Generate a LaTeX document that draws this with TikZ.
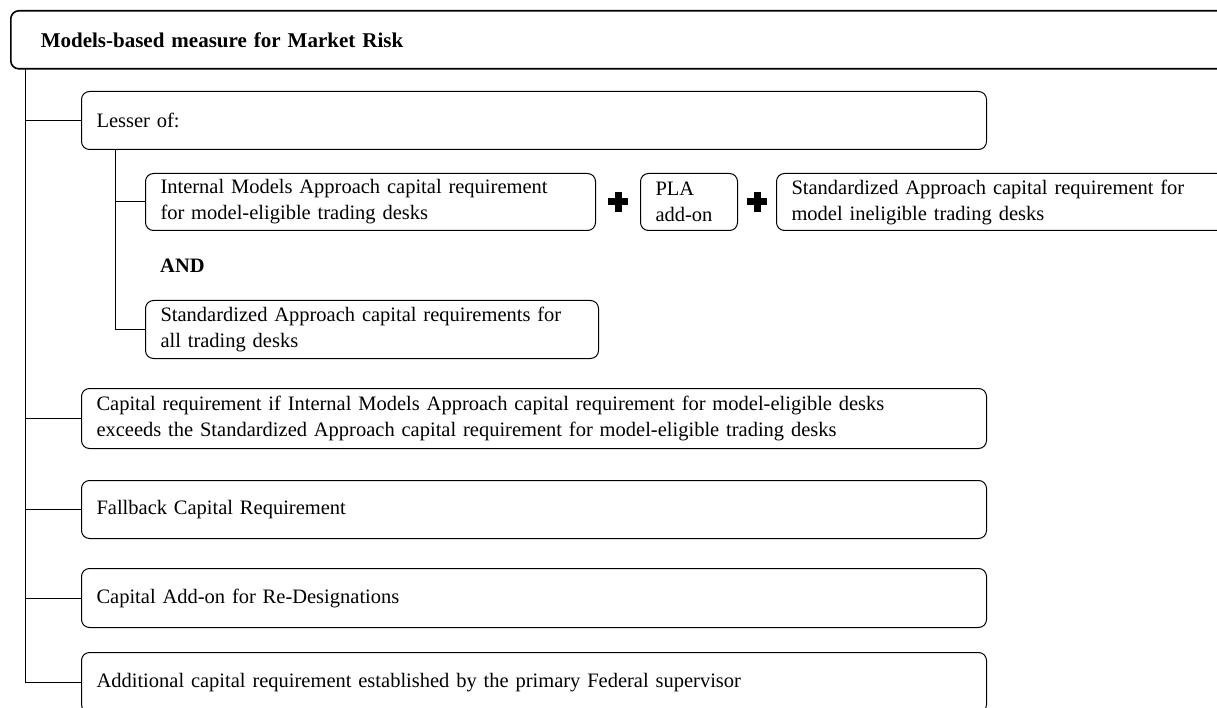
\documentclass[tikz,border=0pt]{standalone}
\usepackage{fontspec}
\setmainfont{Liberation Serif}
\usetikzlibrary{positioning}

\begin{document}
\begin{tikzpicture}[x=1pt, y=-1pt]
\tikzstyle{box1}=[draw, rounded corners=8pt, anchor=north west, align=left, inner xsep=15pt, inner ysep=0pt, line width=1pt, font=\fontsize{20.5}{26}\selectfont]
\tikzstyle{line}=[line width=1pt]
\tikzstyle{plusmark}=[minimum size=20pt, inner sep=0pt, path picture={
  \fill ([xshift=-10pt,yshift=-3.5pt]path picture bounding box.center) rectangle ([xshift=10pt,yshift=3.5pt]path picture bounding box.center);
  \fill ([xshift=-3.5pt,yshift=-10pt]path picture bounding box.center) rectangle ([xshift=3.5pt,yshift=10pt]path picture bounding box.center);}]
\useasboundingbox (0,0) rectangle (1217,708);
\clip (0,0) rectangle (1217,708);

\node (Title)[box1, line width=1.6pt, minimum width=1230pt, minimum height=58pt, text width=1170pt, inner xsep=30pt, font=\fontsize{21}{26}\selectfont] at (10,10) {\textbf{Models-based measure for Market Risk}};
\node (Lesser)[box1, minimum width=905pt, minimum height=58pt, text width=875pt] at (81,91) {Lesser of:};

\node (IMA)[box1, minimum width=450pt, minimum height=57pt, text width=420pt] at (145,173) {Internal Models Approach capital requirement\\for model-eligible trading desks};
\node (P1)[plusmark] at (618,202) {};
\node (PLA)[box1, minimum width=97pt, minimum height=57pt, text width=67pt, inner xsep=15pt] at (640,173) {PLA\\add-on};
\node (P2)[plusmark] at (757,202) {};
\node (SA)[box1, minimum width=480pt, minimum height=57pt, text width=450pt] at (776,173) {Standardized Approach capital requirement for\\model ineligible trading desks};
\node (AND)[anchor=west, inner sep=0pt, font=\fontsize{20.5}{26}\selectfont] at (160,266) {\textbf{AND}};
\node (SAall)[box1, minimum width=453pt, minimum height=58pt, text width=423pt] at (145,300) {Standardized Approach capital requirements for\\all trading desks};

\node (Cap)[box1, minimum width=905pt, minimum height=60pt, text width=875pt] at (81,388) {Capital requirement if Internal Models Approach capital requirement for model-eligible desks\\exceeds the Standardized Approach capital requirement for model-eligible trading desks};
\node (Fall)[box1, minimum width=905pt, minimum height=58pt, text width=875pt] at (81,480) {Fallback Capital Requirement};
\node (Redes)[box1, minimum width=905pt, minimum height=59pt, text width=875pt] at (81,568) {Capital Add-on for Re-Designations};
\node (Add)[box1, minimum width=905pt, minimum height=60pt, text width=875pt] at (81,652) {Additional capital requirement established by the primary Federal supervisor};

\coordinate (T) at (25,68);
\coordinate (L) at (115,149);
\draw [line] (T) |- (Add.west);
\draw [line] (T |- Lesser.west) -- (Lesser.west);
\draw [line] (T |- Cap.west) -- (Cap.west);
\draw [line] (T |- Fall.west) -- (Fall.west);
\draw [line] (T |- Redes.west) -- (Redes.west);
\draw [line] (L) |- (SAall.west);
\draw [line] (L |- IMA.west) -- (IMA.west);

\end{tikzpicture}
\end{document}
